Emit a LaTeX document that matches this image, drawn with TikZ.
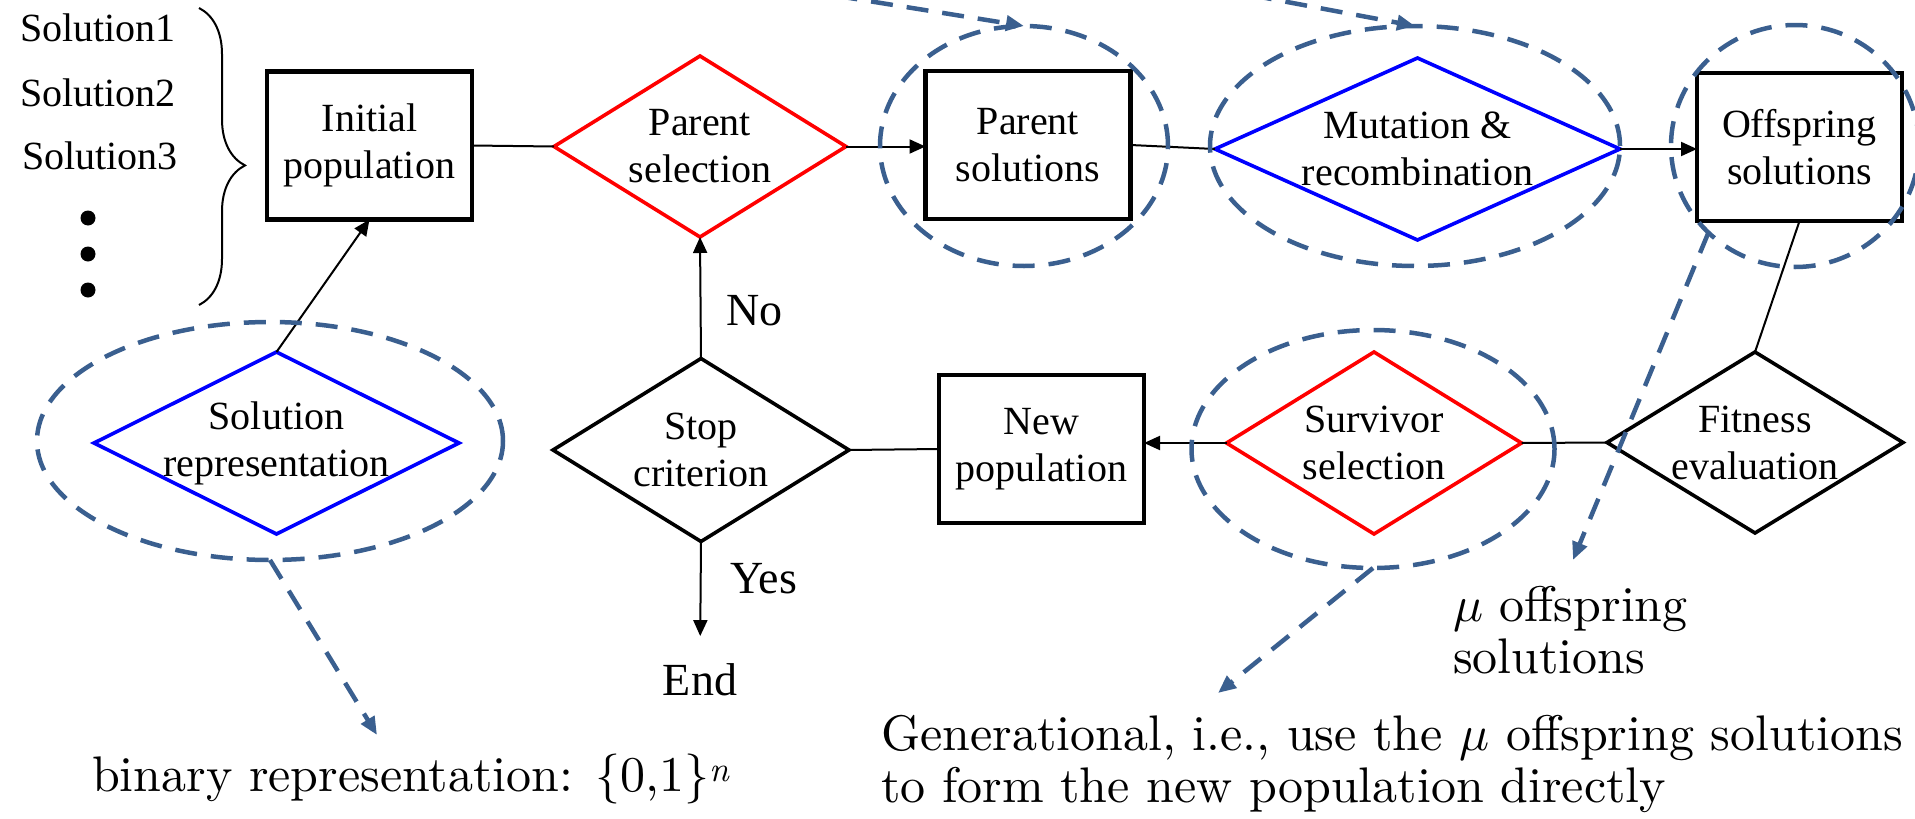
\documentclass[tikz,border=0pt]{standalone}
\usepackage{fontspec}
\usetikzlibrary{shapes.geometric,arrows.meta,decorations.pathreplacing}
\newfontfamily\flowfont{Liberation Serif}
\newfontfamily\notefont{lmroman10-regular}[Extension=.otf, ItalicFont=lmroman10-italic]
% scalable math italic, so the mu follows the large annotation size
\DeclareFontShape{OML}{cmm}{m}{it}{<->cmmi10}{\skewchar\font'177}
\definecolor{notecol}{RGB}{58,95,143}
\definecolor{selred}{RGB}{255,0,0}
\definecolor{opblue}{RGB}{0,0,255}

\begin{document}
\begin{tikzpicture}[x=1pt, y=-1pt,
  every node/.style={inner sep=0pt, outer sep=0pt},
  flowtext/.style={font=\flowfont\fontsize{40}{47}\selectfont, align=center},
  stepbox/.style={rectangle, draw, line width=4.2pt, minimum width=205pt, minimum height=148pt, flowtext},
  decision/.style={diamond, draw, line width=3.6pt},
  link/.style={line width=2pt},
  flow/.style={link, -{Triangle[length=16pt,width=14pt]}},
  halo/.style={ellipse, draw=notecol, line width=4.5pt, dash pattern=on 22pt off 14pt},
  pointer/.style={draw=notecol, line width=4.5pt, dash pattern=on 22pt off 14pt, -{Triangle[length=18pt,width=15pt]}},
  tag/.style={font=\flowfont\fontsize{46}{52}\selectfont},
  remark/.style={font=\notefont\fontsize{50}{54}\selectfont, anchor=base west},
]
\useasboundingbox (0,0) rectangle (1915,819);
\clip (0,0) rectangle (1915,819);

% the population as a list of solutions
\node[flowtext, anchor=base] (s1) at (98,41) {Solution1};
\node[flowtext, anchor=base] (s2) at (98,106) {Solution2};
\node[flowtext, anchor=base] (s3) at (100,169) {Solution3};
\fill (88,218) circle[radius=7.5pt];
\fill (88,254) circle[radius=7.5pt];
\fill (88,290) circle[radius=7.5pt];
\draw[line width=2pt, decorate, decoration={brace, amplitude=46pt, aspect=0.53}] (199,8) -- (199,305);

% process boxes
\node[stepbox] (init) at (369.5,145.5) {Initial\\population};
\node[stepbox] (psol) at (1028,145) {Parent\\solutions};
\node[stepbox] (offs) at (1799.5,147) {Offspring\\solutions};
\node[stepbox] (newp) at (1041.5,449) {New\\population};

% decisions and operators
\node[decision, draw=selred, minimum width=292pt, minimum height=181pt] (psel) at (700,146.5) {};
\node[flowtext] (psel-t) at (psel) {Parent\\selection};
\node[decision, draw=opblue, minimum width=405pt, minimum height=182pt] (mut) at (1417.5,149) {};
\node[flowtext] (mut-t) at (mut) {Mutation \&\\recombination};
\node[decision, minimum width=296pt, minimum height=181pt] (fit) at (1755,442.5) {};
\node[flowtext] (fit-t) at (fit) {Fitness\\evaluation};
\node[decision, draw=selred, minimum width=295pt, minimum height=182pt] (surv) at (1374,443) {};
\node[flowtext] (surv-t) at (surv) {Survivor\\selection};
\node[decision, minimum width=296pt, minimum height=183pt] (stop) at (701,450) {};
\node[flowtext] (stop-t) at (stop) {Stop\\criterion};
\node[decision, draw=opblue, minimum width=365pt, minimum height=182pt] (srep) at (276.5,443) {};
\node[flowtext] (srep-t) at (srep) {Solution\\representation};

% branch labels
\node[tag, anchor=base west] (no) at (726,325) {No};
\node[tag, anchor=base west] (yes) at (730,593) {Yes};
\node[tag, anchor=base] (endt) at (700,695) {End};

% flow connectors
\draw[link] (init.east) -- (psel.west);
\draw[flow] (psel.east) -- (psel.east -| psol.west);
\draw[link] (psol.east) -- (mut.west);
\draw[flow] (mut.east) -- (mut.east -| offs.west);
\draw[link] (offs.south) -- (fit.north);
\draw[link] (fit.west) -- (surv.east);
\draw[flow] (surv.west) -- (surv.west -| newp.east);
\draw[link] (newp.west) -- (stop.east);
\draw[flow] (stop.north) -- (psel.south);
\draw[flow, shorten >=27pt] (stop.south) -- (endt.north);
\draw[flow] (srep.north) -- (init.south);

% highlighted steps
\node[halo, minimum width=466pt, minimum height=238pt] (srep-h) at (270,441) {};
\node[halo, minimum width=288pt, minimum height=240pt] (psol-h) at (1024,146) {};
\node[halo, minimum width=410pt, minimum height=240pt] (mut-h) at (1415,146) {};
\node[halo, minimum width=248pt, minimum height=242pt] (offs-h) at (1795,146) {};
\node[halo, minimum width=363pt, minimum height=238pt] (surv-h) at (1373,449) {};

% annotations
\node[remark] (bin) at (92,791) {binary representation: \{0,1\}\textsuperscript{\itshape n}};
\node[remark] (mu1) at (1453,621) {$\mu$ offspring};
\node[remark] (mu2) at (1453,673) {solutions};
\node[remark] (gen1) at (881,750) {Generational, i.e., use the $\mu$ offspring solutions};
\node[remark] (gen2) at (881,802) {to form the new population directly};

\coordinate (bin-tip) at (377,735);
\coordinate (gen-tip) at (1218,693);
\coordinate (mu-tip) at (1573,560);
\coordinate (top-a) at (800,-10);
\coordinate (top-b) at (1250,-5);

\draw[pointer] (srep-h.south) -- (bin-tip);
\draw[pointer] (surv-h.south) -- (gen-tip);
\draw[pointer] (offs-h.225) -- (mu-tip);
\draw[pointer] (top-a) -- (psol-h.north);
\draw[pointer] (top-b) -- (mut-h.north);
\end{tikzpicture}
\end{document}
